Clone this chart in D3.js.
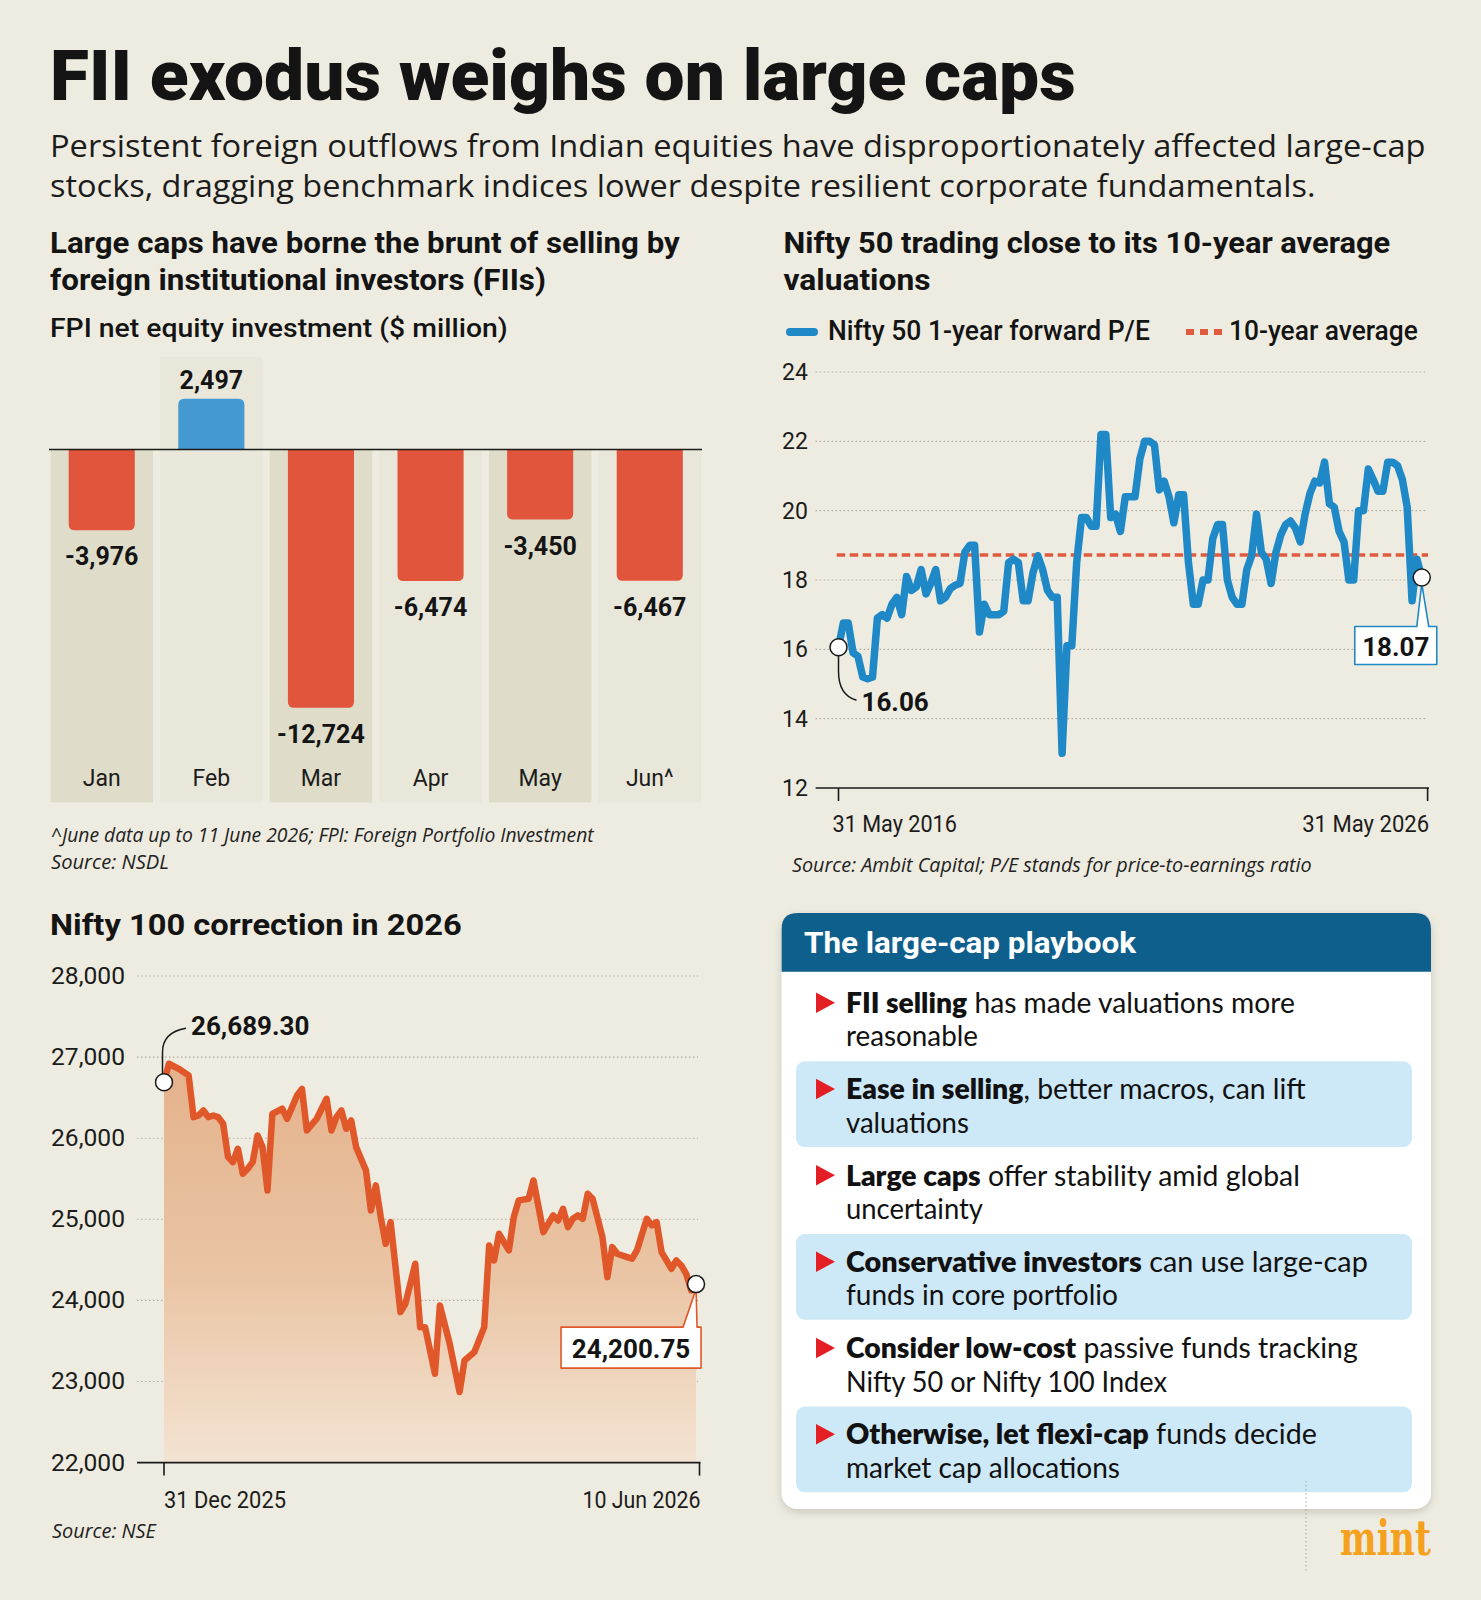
<!DOCTYPE html>
<html><head><meta charset="utf-8">
<script src="https://cdn.jsdelivr.net/npm/d3@7"></script>
<style>body{margin:0;background:#eeece0;} svg{display:block}</style>
</head><body><svg id="c"></svg>
<script>
// ---------------- DATA ----------------
const fpiMonths = ["Jan", "Feb", "Mar", "Apr", "May", "Jun^"];
const fpiValues = [-3976, 2497, -12724, -6474, -3450, -6467];

const peValues = [16.06,16.76,16.76,15.9,15.8,15.2,15.15,15.2,16.9,17.0,
  16.9,17.3,17.5,17.0,18.1,17.7,17.8,18.3,17.6,17.9,
  18.3,17.4,17.5,17.75,17.85,17.9,18.8,19.0,19.0,16.5,
  17.3,17.0,17.0,17.0,17.1,18.5,18.6,18.5,17.4,17.4,
  18.2,18.7,18.3,17.7,17.5,17.5,13.0,16.1,16.1,18.5,
  19.8,19.8,19.55,19.55,22.2,22.2,19.8,19.9,19.4,20.4,
  20.4,20.4,21.5,22.0,22.0,21.9,20.6,20.85,20.4,19.65,
  20.46,20.46,18.5,17.3,17.3,18.0,18.0,19.2,19.6,19.6,
  18.0,17.5,17.3,17.3,18.3,18.7,19.9,18.8,18.6,17.9,
  18.8,19.3,19.6,19.7,19.5,19.1,19.9,20.5,20.85,20.8,
  21.4,20.2,20.1,19.4,19.1,18.0,18.0,20.0,20.0,21.2,
  20.9,20.56,20.56,21.4,21.4,21.3,20.9,20.1,17.4,18.6,18.07];
const peAverage = 18.72;
const peYTicks = [12, 14, 16, 18, 20, 22, 24];
const peXTickLabels = ["31 May 2016", "31 May 2026"];
const peLegend = ["Nifty 50 1-year forward P/E", "10-year average"];

const niftyDays = [0,1,3,5,6,7,8,9,10,11,12,13,14,15,16,17,18,19,20,21,22,24,25,26,27,28,29,31,33,34,
  35,36,37,38,39,41,42,43,44,45,46,48,49,51,52,53,55,56,58,60,61,63,65,66,67,68,70,71,72,74,
  75,77,79,80,81,82,83,84,85,86,87,89,90,91,92,94,95,96,98,99,100,101,103,104,105,106,107,108];
const niftyValues = [26689.3,26918,26856,26774,26260,26280,26342,26260,26280,26260,
  26178,25767,25705,25870,25561,25623,25705,26034,25890,25356,
  26301,26363,26240,26383,26527,26609,26096,26240,26486,26096,
  26260,26342,26116,26219,25890,25603,25109,25418,25027,24698,
  24966,23856,23959,24452,23670,23670,23095,23938,23465,22870,
  23260,23363,23670,24678,24493,24822,24616,25027,25233,25253,
  25479,24842,25048,24986,25130,24904,25007,25048,25007,25315,
  25253,24781,24287,24657,24575,24534,24514,24616,25007,24925,
  24966,24596,24390,24493,24431,24328,24123,24200.75];
const niftyYTicks = [22000, 23000, 24000, 25000, 26000, 27000, 28000];
const niftyXTickLabels = ["31 Dec 2025", "10 Jun 2026"];

const playbookBold = ["FII selling", "Ease in selling", "Large caps", "Conservative investors", "Consider low-cost", "Otherwise, let flexi-cap"];
const playbookRest = [" has made valuations more", ", better macros, can lift", " offer stability amid global", " can use large-cap", " passive funds tracking", " funds decide"];
const playbookLine2 = ["reasonable", "valuations", "uncertainty", "funds in core portfolio", "Nifty 50 or Nifty 100 Index", "market cap allocations"];

// ---------------- LAYOUT ----------------
const W = 1481, H = 1600;
const HEAD = "Roboto, 'Noto Sans', sans-serif";
const BODY = "'Open Sans', 'Noto Sans', sans-serif";
const LIST = "Lato, 'Open Sans', sans-serif";
const BG = "#eeece0";

const svg = d3.select("#c").attr("width", W).attr("height", H).attr("viewBox", `0 0 ${W} ${H}`);
const defs = svg.append("defs");
svg.append("rect").attr("width", W).attr("height", H).attr("fill", BG);

function T(parent, x, y, str, o = {}) {
  const t = parent.append("text").attr("x", x).attr("y", y)
    .attr("font-size", o.size || 20).attr("font-weight", o.weight || 400)
    .attr("font-family", o.family || HEAD).attr("fill", o.fill || "#141414")
    .attr("text-anchor", o.anchor || "start").attr("font-style", o.style || "normal");
  if (str !== null) t.text(str);
  return t;
}
function fit(t, x, w) {
  const len = t.node().getComputedTextLength();
  if (w && len > 0) {
    const k = w / len;
    t.attr("transform", `translate(${x},0) scale(${k},1) translate(${-x},0)`);
  }
  return t;
}

// Title & subtitle
fit(T(svg, 50, 100, "FII exodus weighs on large caps", {size: 71, weight: 900}), 50, 1026);
fit(T(svg, 50, 157, "Persistent foreign outflows from Indian equities have disproportionately affected large-cap", {size: 31, family: BODY, fill: "#1c1c1c"}), 50, 1376);
fit(T(svg, 50, 197, "stocks, dragging benchmark indices lower despite resilient corporate fundamentals.", {size: 31, family: BODY, fill: "#1c1c1c"}), 50, 1266);

// divider
const vg = defs.append("linearGradient").attr("id", "vg").attr("gradientUnits", "userSpaceOnUse")
  .attr("x1", 0).attr("y1", 216).attr("x2", 0).attr("y2", 1440);
vg.append("stop").attr("offset", 0).attr("stop-color", "#c9c7b8").attr("stop-opacity", 0);
vg.append("stop").attr("offset", 0.08).attr("stop-color", "#c9c7b8").attr("stop-opacity", 1);
vg.append("stop").attr("offset", 0.92).attr("stop-color", "#c9c7b8").attr("stop-opacity", 1);
vg.append("stop").attr("offset", 1).attr("stop-color", "#c9c7b8").attr("stop-opacity", 0);
defs.append("filter").attr("id", "blur").append("feGaussianBlur").attr("stdDeviation", 1.6);
svg.append("line").attr("x1", 733).attr("x2", 733).attr("y1", 216).attr("y2", 1440)
  .attr("stroke", "url(#vg)").attr("stroke-width", 4).attr("filter", "url(#blur)");

// ---------------- BAR CHART ----------------
const g1 = svg.append("g");
fit(T(g1, 50, 253, "Large caps have borne the brunt of selling by", {size: 29, weight: 700}), 50, 630);
fit(T(g1, 50, 290, "foreign institutional investors (FIIs)", {size: 29, weight: 700}), 50, 496);
fit(T(g1, 50, 337, "FPI net equity investment ($ million)", {size: 26, weight: 500}), 50, 458);

const xB = d3.scaleBand().domain(fpiMonths).range([50.5, 701]).paddingInner(0.065);
const yF = d3.scaleLinear().domain([0, -12724]).range([449.5, 707.8]);
const panelBottom = 802.5;
const fmt = v => d3.format(",")(v).replace("\u2212", "-");

fpiMonths.forEach((m, i) => {
  const v = fpiValues[i];
  const top = v > 0 ? yF(v) - 42 : yF(0);
  g1.append("rect").attr("x", xB(m)).attr("y", top).attr("width", xB.bandwidth())
    .attr("height", panelBottom - top).attr("fill", i % 2 === 0 ? "#dfddc9" : "#e8e7d9");
});
const bw = xB.bandwidth() * 0.645;
fpiMonths.forEach((m, i) => {
  const v = fpiValues[i];
  const x0 = xB(m) + (xB.bandwidth() - bw) / 2, x1 = x0 + bw;
  const y0 = yF(0), y1 = yF(v), r = 6;
  const s = v < 0 ? 1 : -1;
  const p = `M${x0},${y0} V${y1 - s * r} Q${x0},${y1} ${x0 + r},${y1} H${x1 - r} Q${x1},${y1} ${x1},${y1 - s * r} V${y0} Z`;
  g1.append("path").attr("d", p).attr("fill", v < 0 ? "#e1553d" : "#4499d0");
  const cx = xB(m) + xB.bandwidth() / 2;
  T(g1, cx, v < 0 ? y1 + 35 : y1 - 10, fmt(v), {size: 25, weight: 700, anchor: "middle"});
  T(g1, cx, 786, m, {size: 23, anchor: "middle", fill: "#1c1c1c"});
});
g1.append("line").attr("x1", 49).attr("x2", 702).attr("y1", yF(0)).attr("y2", yF(0))
  .attr("stroke", "#1a1a1a").attr("stroke-width", 1.6);
fit(T(g1, 51, 842, "^June data up to 11 June 2026; FPI: Foreign Portfolio Investment", {size: 19.5, family: BODY, style: "italic", fill: "#222"}), 51, 543);
fit(T(g1, 51, 869, "Source: NSDL", {size: 19.5, family: BODY, style: "italic", fill: "#222"}), 51, 118);

// ---------------- P/E CHART ----------------
const g2 = svg.append("g");
fit(T(g2, 783.5, 253, "Nifty 50 trading close to its 10-year average", {size: 29, weight: 700}), 783.5, 607);
fit(T(g2, 783.5, 290, "valuations", {size: 29, weight: 700}), 783.5, 147);
// legend
g2.append("line").attr("x1", 790).attr("x2", 814).attr("y1", 332).attr("y2", 332)
  .attr("stroke", "#1f88c6").attr("stroke-width", 8).attr("stroke-linecap", "round");
fit(T(g2, 828, 340, peLegend[0], {size: 27, weight: 500}), 828, 322);
g2.append("line").attr("x1", 1186).attr("x2", 1222).attr("y1", 332).attr("y2", 332)
  .attr("stroke", "#e05a3f").attr("stroke-width", 6).attr("stroke-dasharray", "8,6");
fit(T(g2, 1229, 340, peLegend[1], {size: 27, weight: 500}), 1229, 189);

const xP = d3.scaleLinear().domain([0, 121.2]).range([838.5, 1427.6]);
const yP = d3.scaleLinear().domain([12, 24]).range([788, 372]);
peYTicks.forEach(t => {
  if (t > 12) g2.append("line").attr("x1", 815.6).attr("x2", 1427.6).attr("y1", yP(t)).attr("y2", yP(t))
    .attr("stroke", "#aeaca1").attr("stroke-width", 1.1).attr("stroke-dasharray", "1.5,2.5");
  T(g2, 782, yP(t) + 8, String(t), {size: 23, fill: "#1c1c1c"});
});
g2.append("line").attr("x1", 815.6).attr("x2", 1429).attr("y1", yP(12)).attr("y2", yP(12))
  .attr("stroke", "#1a1a1a").attr("stroke-width", 1.6);
xP.domain().forEach((d, i) => {
  g2.append("line").attr("x1", xP(d)).attr("x2", xP(d)).attr("y1", yP(12)).attr("y2", yP(12) + 13)
    .attr("stroke", "#1a1a1a").attr("stroke-width", 1.6);
  const lx = i === 0 ? xP(d) - 6 : xP(d) + 1.5;
  fit(T(g2, lx, 832, peXTickLabels[i], {size: 24, anchor: i === 0 ? "start" : "end", fill: "#1c1c1c"}), lx, i === 0 ? 124.5 : 127);
});
// average
g2.append("line").attr("x1", 836.7).attr("x2", 1428).attr("y1", yP(peAverage)).attr("y2", yP(peAverage))
  .attr("stroke", "#e05a3f").attr("stroke-width", 3.6).attr("stroke-dasharray", "8.5,4.5");
// line
g2.append("path").datum(peValues)
  .attr("d", d3.line().x((d, i) => xP(i)).y(d => yP(d)))
  .attr("fill", "none").attr("stroke", "#1f88c6").attr("stroke-width", 7.5)
  .attr("stroke-linejoin", "round").attr("stroke-linecap", "round");
// annotations
{
  const sx = xP(0), sy = yP(peValues[0]);
  g2.append("path").attr("d", `M${sx},${sy + 8} V${sy + 24} Q${sx},${sy + 48} ${sx + 18},${sy + 53}`)
    .attr("fill", "none").attr("stroke", "#1a1a1a").attr("stroke-width", 1.5);
  g2.append("circle").attr("cx", sx).attr("cy", sy).attr("r", 8.5).attr("fill", "#fff")
    .attr("stroke", "#1a1a1a").attr("stroke-width", 1.5);
  T(g2, sx + 23, sy + 64, peValues[0].toFixed(2), {size: 26, weight: 700});

  const last = peValues.length - 1;
  const ex = xP(last), ey = yP(peValues[last]);
  const bx0 = ex - 67, bx1 = ex + 15, by0 = ey + 49, by1 = ey + 87;
  g2.append("path").attr("d", `M${bx0},${by0} H${ex - 5} L${ex},${ey + 6} L${ex + 7},${by0} H${bx1} V${by1} H${bx0} Z`)
    .attr("fill", "#fff").attr("stroke", "#1f88c6").attr("stroke-width", 1.6).attr("stroke-linejoin", "round");
  g2.append("circle").attr("cx", ex).attr("cy", ey).attr("r", 8.5).attr("fill", "#fff")
    .attr("stroke", "#1a1a1a").attr("stroke-width", 1.5);
  T(g2, (bx0 + bx1) / 2, by1 - 9, peValues[last].toFixed(2), {size: 26, weight: 700, anchor: "middle"});
}
fit(T(g2, 792, 872, "Source: Ambit Capital; P/E stands for price-to-earnings ratio", {size: 19.5, family: BODY, style: "italic", fill: "#222"}), 792, 520);

// ---------------- NIFTY 100 CHART ----------------
const g3 = svg.append("g");
fit(T(g3, 50, 935, "Nifty 100 correction in 2026", {size: 29, weight: 700}), 50, 412);
const xN = d3.scaleLinear().domain([0, 108.7]).range([164, 699.5]);
const yN = d3.scaleLinear().domain([22000, 28000]).range([1462.6, 976]);
niftyYTicks.forEach(t => {
  if (t > 22000) g3.append("line").attr("x1", 137).attr("x2", 698).attr("y1", yN(t)).attr("y2", yN(t))
    .attr("stroke", "#aeaca1").attr("stroke-width", 1.1).attr("stroke-dasharray", "1.5,2.5");
  fit(T(g3, 125, yN(t) + 8, d3.format(",")(t), {size: 24, anchor: "end", fill: "#1c1c1c"}), 125, 74);
});
const ag = defs.append("linearGradient").attr("id", "ag").attr("gradientUnits", "userSpaceOnUse")
  .attr("x1", 0).attr("y1", yN(27000)).attr("x2", 0).attr("y2", yN(22000));
ag.append("stop").attr("offset", 0).attr("stop-color", "#e4b18a");
ag.append("stop").attr("offset", 0.55).attr("stop-color", "#eac5a5");
ag.append("stop").attr("offset", 1).attr("stop-color", "#f3e3d2");
const nPts = niftyDays.map((d, i) => [d, niftyValues[i]]);
g3.append("path").datum(nPts)
  .attr("d", d3.area().x(d => xN(d[0])).y0(yN(22000)).y1(d => yN(d[1])))
  .attr("fill", "url(#ag)");
g3.append("line").attr("x1", 137).attr("x2", 700.5).attr("y1", yN(22000)).attr("y2", yN(22000))
  .attr("stroke", "#1a1a1a").attr("stroke-width", 1.6);
xN.domain().forEach((d, i) => {
  g3.append("line").attr("x1", xN(d)).attr("x2", xN(d)).attr("y1", yN(22000)).attr("y2", yN(22000) + 13)
    .attr("stroke", "#1a1a1a").attr("stroke-width", 1.6);
  const lx = i === 0 ? xN(d) : xN(d) + 1;
  fit(T(g3, lx, 1508.5, niftyXTickLabels[i], {size: 24, anchor: i === 0 ? "start" : "end", fill: "#1c1c1c"}), lx, i === 0 ? 122 : 118);
});
g3.append("path").datum(nPts)
  .attr("d", d3.line().x(d => xN(d[0])).y(d => yN(d[1])))
  .attr("fill", "none").attr("stroke", "#e0582a").attr("stroke-width", 6.5)
  .attr("stroke-linejoin", "round").attr("stroke-linecap", "round");
{
  const sx = xN(niftyDays[0]), sy = yN(niftyValues[0]);
  g3.append("path").attr("d", `M${sx - 1.5},${sy - 8} V${sy - 30} Q${sx - 1.5},${sy - 50} ${sx + 22},${sy - 54}`)
    .attr("fill", "none").attr("stroke", "#1a1a1a").attr("stroke-width", 1.5);
  g3.append("circle").attr("cx", sx).attr("cy", sy).attr("r", 8.5).attr("fill", "#fff")
    .attr("stroke", "#1a1a1a").attr("stroke-width", 1.5);
  T(g3, sx + 27, sy - 47, d3.format(",.2f")(niftyValues[0]), {size: 26, weight: 700});

  const li = niftyDays.length - 1;
  const ex = xN(niftyDays[li]), ey = yN(niftyValues[li]);
  const bx0 = ex - 135, bx1 = ex + 5, by0 = ey + 43, by1 = ey + 84;
  g3.append("path").attr("d", `M${bx0},${by0} H${ex - 13} L${ex},${ey + 5} L${ex + 1},${by0} H${bx1} V${by1} H${bx0} Z`)
    .attr("fill", "#fff").attr("stroke", "#e0582a").attr("stroke-width", 1.6).attr("stroke-linejoin", "round");
  g3.append("circle").attr("cx", ex).attr("cy", ey).attr("r", 8.5).attr("fill", "#fff")
    .attr("stroke", "#1a1a1a").attr("stroke-width", 1.5);
  T(g3, (bx0 + bx1) / 2, by1 - 10, d3.format(",.2f")(niftyValues[li]), {size: 26, weight: 700, anchor: "middle"});
}
fit(T(g3, 52, 1538, "Source: NSE", {size: 19.5, family: BODY, style: "italic", fill: "#222"}), 52, 104);

// ---------------- PLAYBOOK ----------------
const g4 = svg.append("g");
const sh = defs.append("filter").attr("id", "sh").attr("x", "-10%").attr("y", "-10%").attr("width", "120%").attr("height", "120%");
sh.append("feDropShadow").attr("dx", 0).attr("dy", 3).attr("stdDeviation", 4).attr("flood-color", "#000").attr("flood-opacity", 0.16);
const BX0 = 781.6, BX1 = 1431, BY0 = 913, BY1 = 1509, HB = 971.8, R = 16;
g4.append("rect").attr("x", BX0).attr("y", BY0).attr("width", BX1 - BX0).attr("height", BY1 - BY0)
  .attr("rx", R).attr("fill", "#fff").attr("filter", "url(#sh)");
g4.append("path").attr("d", `M${BX0},${HB} V${BY0 + R} Q${BX0},${BY0} ${BX0 + R},${BY0} H${BX1 - R} Q${BX1},${BY0} ${BX1},${BY0 + R} V${HB} Z`)
  .attr("fill", "#0f5f8d");
fit(T(g4, 804, 953.5, "The large-cap playbook", {size: 30, weight: 700, fill: "#fff"}), 804, 332);

const rowTop0 = 975, rowH = 86.3;
const w1 = [449, 460, 454, 522, 512, 471];
const w2 = [132, 123, 137, 272, 321, 274];
playbookBold.forEach((b, i) => {
  const top = rowTop0 + i * rowH;
  if (i % 2 === 1) g4.append("rect").attr("x", 796).attr("y", top).attr("width", 616).attr("height", rowH - 0.5)
    .attr("rx", 9).attr("fill", "#cde8f7");
  const bl = top + 38;
  g4.append("path").attr("d", `M816,${bl - 20.5} L835,${bl - 10.25} L816,${bl} Z`).attr("fill", "#e31e24");
  const t = T(g4, 846, bl, null, {size: 28, family: LIST, fill: "#111"});
  t.append("tspan").attr("font-weight", 800).text(b);
  t.append("tspan").attr("font-weight", 400).text(playbookRest[i]);
  fit(t, 846, w1[i]);
  fit(T(g4, 846, bl + 33.5, playbookLine2[i], {size: 28, family: LIST, fill: "#111"}), 846, w2[i]);
});

// mint logo
svg.append("line").attr("x1", 1306).attr("x2", 1306).attr("y1", 1481).attr("y2", 1573)
  .attr("stroke", "#a9a79c").attr("stroke-width", 1).attr("stroke-dasharray", "1.5,2.5");
fit(T(svg, 1431, 1555, "mint", {size: 48, weight: 700, family: "'DejaVu Serif', serif", fill: "#f5a11d", anchor: "end"}), 1431, 91);
</script></body></html>
